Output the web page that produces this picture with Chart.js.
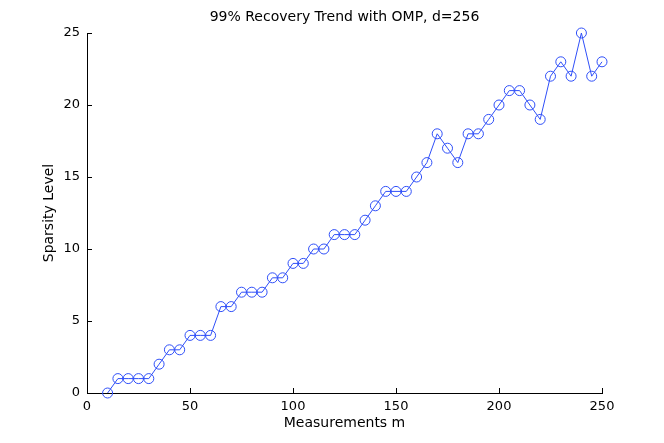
<!DOCTYPE html>
<html>
<head>
<meta charset="utf-8">
<script src="https://cdn.jsdelivr.net/npm/chart.js@4/dist/chart.umd.min.js"></script>
<style>
html,body{margin:0;padding:0;background:#fff;}
#wrap{width:664px;height:443px;}
</style>
</head>
<body>
<div id="wrap"><canvas id="c" width="664" height="443"></canvas></div>
<script>
const measurements = [10,15,20,25,30,35,40,45,50,55,60,65,70,75,80,85,90,95,100,105,110,115,120,125,130,135,140,145,150,155,160,165,170,175,180,185,190,195,200,205,210,215,220,225,230,235,240,245,250];
const sparsity = [0,1,1,1,1,2,3,3,4,4,4,6,6,7,7,7,8,8,9,9,10,10,11,11,11,12,13,14,14,14,15,16,18,17,16,18,18,19,20,21,21,20,19,22,23,22,25,22,23];
const xTicks = [0,50,100,150,200,250];
const yTicks = [0,5,10,15,20,25];
const titleText = '99% Recovery Trend with OMP, d=256';
const xLabel = 'Measurements m';
const yLabel = 'Sparsity Level';

const FAMILY = '"DejaVu Sans", Verdana, sans-serif';
const TICKFONT = {family: FAMILY, size: 13, weight: 'normal'};
const LABELFONT = {family: FAMILY, size: 14, weight: 'normal'};
const BLUE = '#2f4ff8';

const inwardTicks = {
  id: 'inwardTicks',
  afterDraw(chart) {
    const ctx = chart.ctx;
    const xs = chart.scales.x, ys = chart.scales.y;
    const L = 5;
    ctx.save();
    ctx.strokeStyle = '#000';
    ctx.lineWidth = 1;
    ctx.beginPath();
    xTicks.forEach(v => {
      const px = Math.round(xs.getPixelForValue(v)) + 0.5;
      ctx.moveTo(px, ys.bottom);
      ctx.lineTo(px, ys.bottom - L);
    });
    yTicks.forEach(v => {
      const py = Math.round(ys.getPixelForValue(v)) + 0.5;
      ctx.moveTo(xs.left, py);
      ctx.lineTo(xs.left + L, py);
    });
    ctx.stroke();
    ctx.restore();
  }
};

new Chart(document.getElementById('c'), {
  type: 'line',
  data: {
    labels: measurements,
    datasets: [{
      data: measurements.map((m, i) => ({x: m, y: sparsity[i]})),
      borderColor: BLUE,
      borderWidth: 1,
      backgroundColor: 'rgba(0,0,0,0)',
      pointStyle: 'circle',
      pointRadius: 5,
      pointBorderWidth: 1,
      pointBorderColor: BLUE,
      pointBackgroundColor: 'rgba(0,0,0,0)',
      tension: 0,
      fill: false,
      clip: false
    }]
  },
  options: {
    responsive: false,
    animation: false,
    devicePixelRatio: 1,
    layout: {padding: {left: 0, right: 62, top: 0, bottom: 0}},
    plugins: {
      legend: {display: false},
      tooltip: {enabled: false},
      title: {
        display: true,
        text: titleText,
        color: '#000',
        font: LABELFONT,
        padding: {top: 9.1, bottom: 7.1},
        fullSize: false
      }
    },
    scales: {
      x: {
        type: 'linear',
        min: 0, max: 250,
        afterFit(s) { s.height = 50; },
        ticks: {stepSize: 50, color: '#000', font: TICKFONT, padding: 6, maxRotation: 0},
        grid: {display: true, drawOnChartArea: false, drawTicks: false, color: '#000'},
        border: {display: true, color: '#000', width: 1},
        title: {display: true, text: xLabel, color: '#000', font: LABELFONT, padding: {top: 0, bottom: 11.6}}
      },
      y: {
        type: 'linear',
        min: 0, max: 25,
        afterFit(s) { s.width = 87; },
        ticks: {stepSize: 5, color: '#000', font: TICKFONT, padding: 7},
        grid: {display: true, drawOnChartArea: false, drawTicks: false, color: '#000'},
        border: {display: true, color: '#000', width: 1},
        title: {display: true, text: yLabel, color: '#000', font: LABELFONT, padding: {top: 41.3, bottom: 0}}
      }
    }
  },
  plugins: [inwardTicks]
});
</script>
</body>
</html>
